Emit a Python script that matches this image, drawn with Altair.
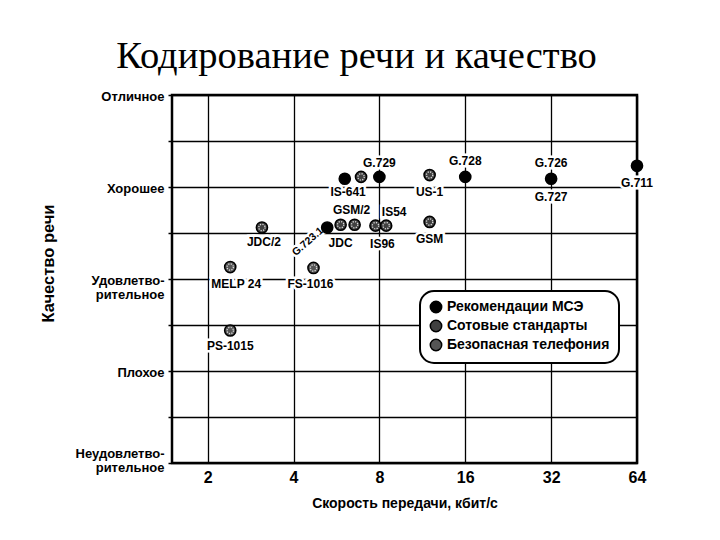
import json
import altair as alt
import pandas as pd

# ---------------- data ----------------
names = ["G.711", "G.726", "G.728", "G.729", "US-1", "G.723.1 6.3", "IS-641",
         "G.723.1", "JDC", "GSM/2", "IS96", "IS54", "GSM", "JDC/2",
         "MELP 24", "FS-1016", "PS-1015"]
rates = [64, 32, 16, 8, 12.0, 6.05, 6.9,
         5.25, 5.85, 6.55, 7.75, 8.45, 12.0, 3.1,
         2.4, 4.7, 2.4]
quality = [4.23, 4.09, 4.11, 4.11, 4.13, 4.09, 4.11,
           3.56, 3.59, 3.59, 3.58, 3.58, 3.62, 3.56,
           3.13, 3.12, 2.44]
groups = ["Рекомендации МСЭ"] * 4 + ["Сотовые стандарты", "Рекомендации МСЭ", "Сотовые стандарты",
          "Рекомендации МСЭ"] + ["Сотовые стандарты"] * 6 + ["Безопасная телефония"] * 3

group_order = ["Рекомендации МСЭ", "Сотовые стандарты", "Безопасная телефония"]

label_text = ["G.711", "G.726", "G.727", "G.728", "G.729", "US-1", "IS-641",
              "G.723.1", "JDC", "GSM/2", "IS96", "IS54", "GSM", "JDC/2",
              "MELP 24", "FS-1016", "PS-1015"]
label_point = ["G.711", "G.726", "G.726", "G.728", "G.729", "US-1", "IS-641",
               "G.723.1", "JDC", "GSM/2", "IS96", "IS54", "GSM", "JDC/2",
               "MELP 24", "FS-1016", "PS-1015"]

x_ticks = [2, 4, 8, 16, 32, 64]
y_label_lines = [["Неудовлетво-", "рительное"], ["Плохое"], ["Удовлетво-", "рительное"],
                 ["Хорошее"], ["Отличное"]]
y_grid = [1, 1.5, 2, 2.5, 3, 3.5, 4, 4.5, 5]

# ---------------- styling (label offsets in px: dx, dy, angle, font size) ----------------
label_style = [(0, 17, 0, 12), (0, -16, 0, 12), (0, 18, 0, 12), (0, -16, 0, 12), (0, -14, 0, 12),
               (0, 17, 0, 12), (-13, 15, 0, 12), (-24, -2, 319, 10.5), (0, 18, 0, 12), (-3, -15, 0, 12),
               (7, 18, 0, 12), (8, -14, 0, 12), (0, 17, 0, 12), (2, 15, 0, 12),
               (6, 17, 0, 12), (-3, 16, 0, 12), (0, 15, 0, 12)]

FONT = "Liberation Sans"

df = pd.DataFrame({"name": names, "rate": rates, "q": quality, "group": groups})

xscale = alt.Scale(type="log", base=2, domain=[1.5, 64], nice=False)
yscale = alt.Scale(domain=[1, 5], nice=False, zero=False)

arr = json.dumps(y_label_lines, ensure_ascii=False)
label_expr = f"datum.value % 1 == 0 ? {arr}[datum.value - 1] : ''"

X = alt.X("rate:Q", scale=xscale,
          axis=alt.Axis(values=x_ticks, format="d", title="Скорость передачи, кбит/с",
                        grid=True, ticks=False, domain=False, labelPadding=6,
                        labelFontSize=16, labelFontWeight="bold", labelFont=FONT,
                        titleFont=FONT, titleFontSize=14, titleFontWeight="bold",
                        titleY=40, titleBaseline="middle",
                        labelFlush=False, labelOverlap=False))
Y = alt.Y("q:Q", scale=yscale,
          axis=alt.Axis(values=y_grid, labelExpr=label_expr, title="Качество речи",
                        grid=True, ticks=True, tickSize=4, tickWidth=1.5, tickColor="black",
                        domain=False, labelPadding=4, labelFontSize=13, labelFontWeight="bold",
                        labelFont=FONT, labelLineHeight=14.5, labelOverlap=False, labelFlush=False,
                        labelBaseline="middle", labelAlign="right",
                        labelOffset={"condition": {"test": "datum.value == 1", "value": -10}, "value": 1},
                        titleFont=FONT, titleFontSize=16.5, titleFontWeight="bold",
                        titleAngle=270, titleX=-124, titleY=168, titleAlign="center",
                        titleBaseline="middle"))

color = alt.Color("group:N",
                  scale=alt.Scale(domain=group_order, range=["#000000", "#404040", "#555555"]),
                  legend=alt.Legend(title=None, orient="none", legendX=248, legendY=196,
                                    strokeColor="black", cornerRadius=14,
                                    padding=9, fillColor="white", labelLimit=400,
                                    labelFont=FONT, labelFontSize=14, labelFontWeight="bold",
                                    symbolType="circle", symbolSize=130, symbolStrokeColor="black",
                                    symbolStrokeWidth=1.5, symbolOpacity=1, rowPadding=1,
                                    labelOffset=4))

points = alt.Chart(df).mark_point(filled=True, size=125, stroke="black", strokeWidth=1.5,
                                  opacity=1).encode(x=X, y=Y, color=color)

texture = alt.Chart(df).transform_filter(
    alt.datum.group != "Рекомендации МСЭ"
).mark_point(filled=False, size=40, stroke="#dddddd", strokeWidth=1.3,
             strokeDash=[1.2, 1.3], opacity=1).encode(x="rate:Q", y="q:Q")

lookup = {n: (r, q) for n, r, q in zip(names, rates, quality)}
halos, texts = [], []
for txt, pt, (dx, dy, ang, fs) in zip(label_text, label_point, label_style):
    r, q = lookup[pt]
    d = pd.DataFrame({"rate": [r], "q": [q], "t": [txt]})
    common = dict(dx=dx, dy=dy, angle=ang, font=FONT, fontSize=fs, fontWeight="bold",
                  align="center", baseline="middle")
    halos.append(alt.Chart(d).mark_text(stroke="white", strokeWidth=5, fill="white", **common)
                 .encode(x="rate:Q", y="q:Q", text="t:N"))
    texts.append(alt.Chart(d).mark_text(fill="black", **common)
                 .encode(x="rate:Q", y="q:Q", text="t:N"))

chart = alt.layer(*halos, points, texture, *texts).properties(
    width=465, height=368,
    autosize=alt.AutoSizeParams(type="none"),
    padding={"left": 172, "top": 95, "right": 83, "bottom": 77},
    title=alt.TitleParams("Кодирование речи и качество", font="Liberation Serif", fontSize=38.5,
                          fontWeight="normal", anchor="middle", dx=-48, dy=41, offset=25,
                          baseline="alphabetic", color="black"),
).configure_view(stroke="black", strokeWidth=2.5).configure_axis(
    gridColor="black", gridWidth=1.3, gridOpacity=1, labelColor="black", titleColor="black"
).configure_legend(strokeWidth=2)

chart.save("out.html", embed_options={"renderer": "svg", "actions": False})
